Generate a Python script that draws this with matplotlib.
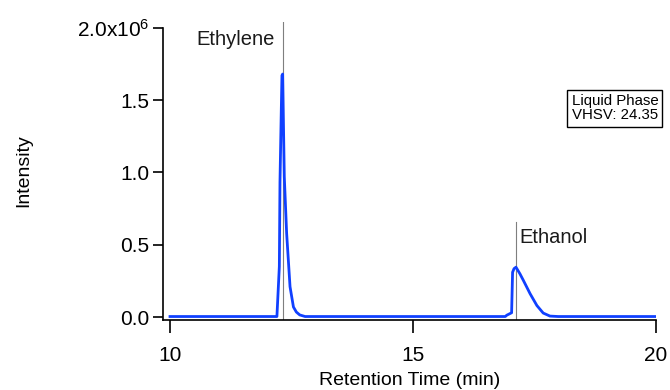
import matplotlib
matplotlib.use("Agg")
import matplotlib.pyplot as plt

plt.rcParams['font.family'] = ['Liberation Sans', 'DejaVu Sans']
plt.rcParams['mathtext.fontset'] = 'custom'
plt.rcParams['mathtext.rm'] = 'Liberation Sans'
plt.rcParams['mathtext.it'] = 'Liberation Sans'

# Chromatogram trace (retention time in min, intensity in counts)
time_min = [10.0, 12.20, 12.25, 12.263, 12.29, 12.304, 12.318, 12.33, 12.352,
            12.40, 12.47, 12.54, 12.60, 12.67, 12.78, 16.90, 16.93, 17.03,
            17.05, 17.08, 17.12, 17.20, 17.27, 17.41, 17.55, 17.68, 17.82,
            17.99, 20.0]
intensity = [0.004e6, 0.004e6, 0.35e6, 0.93e6, 1.43e6, 1.67e6, 1.68e6, 1.43e6, 0.97e6,
             0.58e6, 0.21e6, 0.07e6, 0.035e6, 0.015e6, 0.004e6, 0.004e6, 0.013e6, 0.03e6,
             0.31e6, 0.335e6, 0.345e6, 0.30e6, 0.255e6, 0.162e6, 0.08e6, 0.028e6, 0.007e6,
             0.004e6, 0.004e6]

peak_names = ["Ethylene", "Ethanol"]
peak_times = [12.32, 17.12]
peak_marker_tops = [2.04e6, 0.657e6]

y_ticks = [0.0, 0.5e6, 1.0e6, 1.5e6, 2.0e6]
y_tick_labels = ["0.0", "0.5", "1.0", "1.5", r"2.0x10$^{6}$"]
x_ticks = [10, 15, 20]
x_tick_labels = ["10", "15", "20"]

fig = plt.figure(figsize=(6.7, 3.9), dpi=100)
ax = fig.add_axes([0.2433, 0.1795, 0.979 - 0.2433, 0.9436 - 0.1795])

xlim = (9.856, 20.0)
ylim = (-0.02e6, 2.04e6)

ax.plot(time_min, intensity, color='#1040ff', lw=2.0, zorder=3, solid_joinstyle='round')

for t, top in zip(peak_times, peak_marker_tops):
    ax.plot([t, t], [ylim[0], top], color='#7f7f7f', lw=0.8, zorder=2)

ax.text(12.15, 1.92e6, peak_names[0], ha='right', va='center', fontsize=14.5, color='#1a1a1a')
ax.text(17.2, 0.55e6, peak_names[1], ha='left', va='center', fontsize=14.5, color='#1a1a1a')

fig.text(0.853, 0.723, "Liquid Phase\nVHSV: 24.35", fontsize=10.8,
         ha='left', va='center', linespacing=1.05,
         bbox=dict(boxstyle='square,pad=0.28', fc='white', ec='black', lw=1.0))

ax.set_xlim(*xlim)
ax.set_ylim(*ylim)
ax.set_xticks(x_ticks)
ax.set_xticklabels(x_tick_labels, fontsize=15)
ax.set_yticks(y_ticks)
ax.set_yticklabels(y_tick_labels, fontsize=15)

for s in ['top', 'right']:
    ax.spines[s].set_visible(False)
ax.spines['left'].set_bounds(ylim[0], 2.0e6)
ax.spines['bottom'].set_bounds(xlim[0], 20.0)
ax.spines['left'].set_linewidth(1.2)
ax.spines['bottom'].set_linewidth(1.2)
ax.tick_params(axis='y', direction='out', length=7, width=1.2, pad=3)
ax.tick_params(axis='x', direction='out', length=9, width=1.2, pad=10)

ax.set_xlabel("Retention Time (min)", fontsize=14, labelpad=5)
ax.set_ylabel("Intensity", fontsize=14, labelpad=32)

fig.savefig("out.png", dpi=100)
